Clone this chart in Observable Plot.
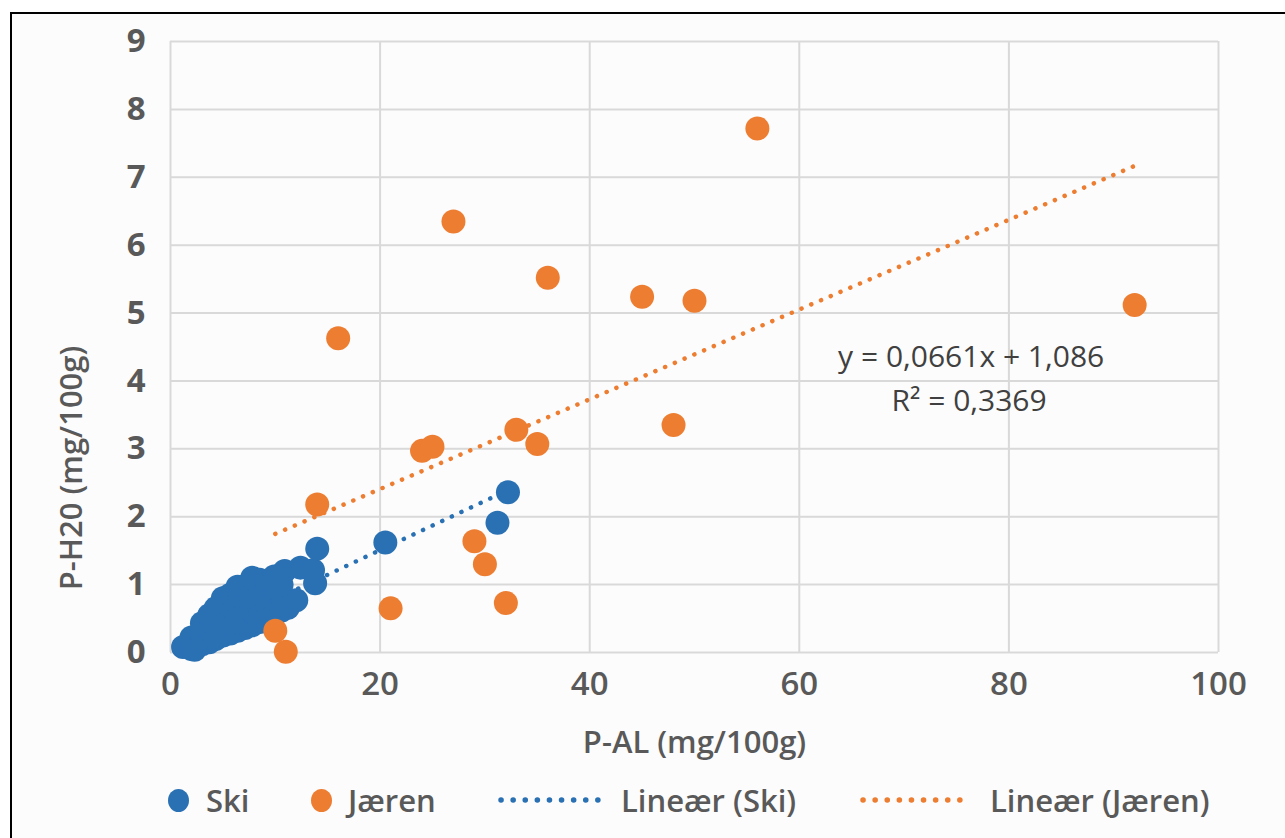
<!DOCTYPE html>
<html><head><meta charset="utf-8">
<script src="https://cdn.jsdelivr.net/npm/d3@7"></script>
<script src="https://cdn.jsdelivr.net/npm/@observablehq/plot@0.6"></script>
<style>
body{margin:0;background:#fff;width:1285px;height:838px;overflow:hidden;font-family:"Open Sans",sans-serif;position:relative;}
#frame{position:absolute;left:10px;top:12px;width:1275px;height:826px;border-left:2px solid #000;border-top:2px solid #000;background:#fcfcfc;}
#chart{position:absolute;left:0;top:0;}
.leg{position:absolute;top:781px;font-size:31px;line-height:38px;font-weight:600;color:#595959;white-space:nowrap;}
.dot{position:absolute;width:21px;height:23px;border-radius:50%;top:789px;}
</style></head>
<body>
<div id="frame"></div>
<div id="chart"></div>
<script>
// Ski series (P-AL, P-H2O)
const skiX = [1.2,2.0,2.0,2.3,3.0,3.0,3.0,3.7,3.7,3.7,4.3,4.3,4.3,5.0,5.0,5.0,5.0,5.7,5.7,5.7,5.7,6.4,6.4,6.4,6.4,7.1,7.1,7.1,7.1,7.8,7.8,7.8,7.8,8.5,8.5,8.5,8.5,9.2,9.2,9.2,9.2,9.9,9.9,9.9,9.9,10.6,10.6,10.6,10.9,11.2,12.0,12.4,13.6,13.8,14.0,20.5,31.2,32.2];
const skiY = [0.08,0.05,0.22,0.04,0.12,0.30,0.43,0.15,0.35,0.55,0.20,0.40,0.65,0.25,0.45,0.62,0.80,0.28,0.48,0.68,0.85,0.32,0.52,0.72,0.97,0.36,0.56,0.76,0.98,0.40,0.60,0.80,1.10,0.45,0.65,0.85,1.07,0.50,0.70,0.90,1.05,0.55,0.75,0.95,1.12,0.62,0.82,1.00,1.20,0.66,0.77,1.25,1.21,1.02,1.53,1.62,1.91,2.36];
// Jæren series
const jaerenX = [56,27,36,45,50,92,16,48,33,35,24,25,14,29,30,21,32,10,11];
const jaerenY = [7.72,6.35,5.52,5.24,5.18,5.12,4.63,3.35,3.28,3.07,2.97,3.03,2.18,1.64,1.30,0.65,0.73,0.32,0.01];
// Linear trendlines (coefficients)
const skiSlope = 0.0724, skiIntercept = 0.06;
const jaerenSlope = 0.0661, jaerenIntercept = 1.086;
// Tick labels
const xTicks = [0,20,40,60,80,100];
const yTicks = [0,1,2,3,4,5,6,7,8,9];
// Equation annotation
const eqText = ["y = 0,0661x + 1,086", "R² = 0,3369"];
const eqX = [76.4, 76.2];
const eqY = [4.34, 3.70];

const blue = "#2a71b4", orange = "#ed7d31", textCol = "#595959";
const ski = skiX.map((x,i)=>({x, y: skiY[i]}));
const jaeren = jaerenX.map((x,i)=>({x, y: jaerenY[i]}));
const skiExt = d3.extent(skiX), jaerenExt = d3.extent(jaerenX);
const skiLine = skiExt.map(x=>({x, y: skiSlope*x + skiIntercept}));
const jaerenLine = jaerenExt.map(x=>({x, y: jaerenSlope*x + jaerenIntercept}));
const eq = eqText.map((t,i)=>({t, x: eqX[i], y: eqY[i]}));

const chart = Plot.plot({
  width: 1285, height: 770,
  marginLeft: 170, marginRight: 67, marginTop: 41, marginBottom: 118,
  x: {domain: [0,100]},
  y: {domain: [0,9]},
  style: {background: "transparent", fontFamily: "Open Sans, sans-serif", color: textCol, overflow: "visible"},
  marks: [
    Plot.gridX(xTicks, {stroke: "#d9d9d9", strokeOpacity: 1, strokeWidth: 2}),
    Plot.gridY(yTicks, {stroke: "#d9d9d9", strokeOpacity: 1, strokeWidth: 2}),
    Plot.axisX(xTicks, {tickSize: 0, tickPadding: 19, fontSize: 33, fontWeight: 600, label: null, tickFormat: "d"}),
    Plot.axisY(yTicks, {tickSize: 0, tickPadding: 25, fontSize: 33, fontWeight: 700, label: null, tickFormat: "d"}),
    Plot.text(["P-AL (mg/100g)"], {frameAnchor: "bottom", textAnchor: "middle", lineAnchor: "middle", dy: 91, fontSize: 31, fontWeight: 600, fill: textCol}),
    Plot.text(["P-H20 (mg/100g)"], {frameAnchor: "left", textAnchor: "middle", lineAnchor: "middle", dx: -98, dy: 121, rotate: -90, fontSize: 31, fontWeight: 600, fill: textCol}),
    Plot.dot(ski, {x: "x", y: "y", r: 12, fill: blue, stroke: null}),
    Plot.dot(jaeren, {x: "x", y: "y", r: 12, fill: orange, stroke: null}),
    Plot.line(skiLine, {x: "x", y: "y", stroke: blue, strokeWidth: 4.5, strokeDasharray: "0.1 10.5", strokeLinecap: "round"}),
    Plot.line(jaerenLine, {x: "x", y: "y", stroke: orange, strokeWidth: 4.5, strokeDasharray: "0.1 10.5", strokeLinecap: "round"}),
    Plot.text(eq, {x: "x", y: "y", text: "t", fontSize: 30, fill: "#404040"})
  ]
});
document.getElementById("chart").appendChild(chart);

// Legend
const legend = [
  {type: "dot", color: blue, x: 168, label: "Ski", lx: 206},
  {type: "dot", color: orange, x: 311, label: "Jæren", lx: 348},
  {type: "line", color: blue, x: 498, x2: 598, label: "Lineær (Ski)", lx: 621},
  {type: "line", color: orange, x: 860, x2: 962, label: "Lineær (Jæren)", lx: 990}
];
const body = document.body;
legend.forEach(d => {
  if (d.type === "dot") {
    const e = document.createElement("div");
    e.className = "dot"; e.style.left = d.x + "px"; e.style.background = d.color;
    body.appendChild(e);
  } else {
    const s = d3.select(body).append("svg").style("position","absolute").style("left", d.x+"px").style("top","792px")
      .attr("width", d.x2-d.x+6).attr("height", 16);
    s.append("line").attr("x1",3).attr("x2",d.x2-d.x+3).attr("y1",8).attr("y2",8)
      .attr("stroke", d.color).attr("stroke-width",5.5).attr("stroke-dasharray","0.1 12").attr("stroke-linecap","round");
  }
  const t = document.createElement("div");
  t.className = "leg"; t.style.left = d.lx + "px"; t.textContent = d.label;
  body.appendChild(t);
});
</script>
</body></html>
